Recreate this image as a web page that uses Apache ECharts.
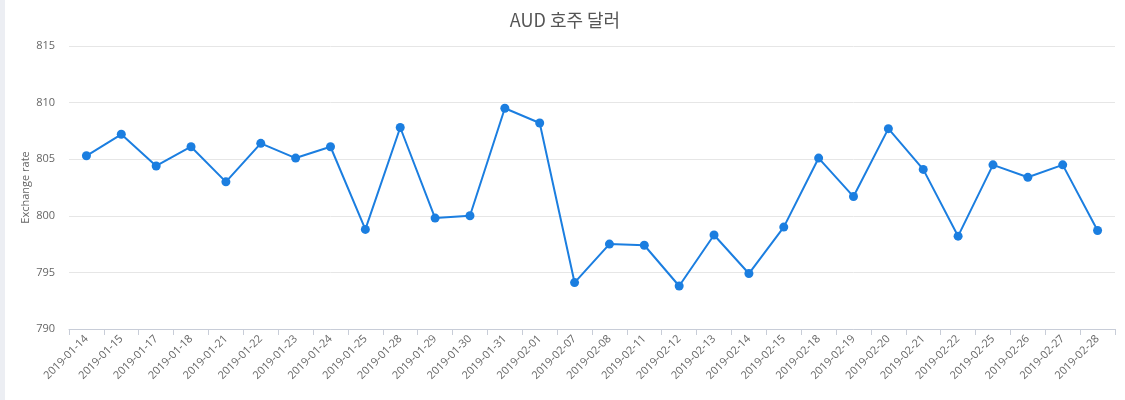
<!DOCTYPE html>
<html>
<head>
<meta charset="utf-8">
<script src="https://cdn.jsdelivr.net/npm/echarts@6/dist/echarts.min.js"></script>
<style>
	html, body { margin: 0; padding: 0; background: #fff; }
	body { border-left: 5px solid #eceef3; }
	#chart { width: 1120px; height: 400px; }
</style>
</head>
<body>
<div id="chart"></div>
<script>
// 날짜 (x축)
var dates = [
	'2019-01-14', '2019-01-15', '2019-01-17', '2019-01-18', '2019-01-21',
	'2019-01-22', '2019-01-23', '2019-01-24', '2019-01-25', '2019-01-28',
	'2019-01-29', '2019-01-30', '2019-01-31', '2019-02-01', '2019-02-07',
	'2019-02-08', '2019-02-11', '2019-02-12', '2019-02-13', '2019-02-14',
	'2019-02-15', '2019-02-18', '2019-02-19', '2019-02-20', '2019-02-21',
	'2019-02-22', '2019-02-25', '2019-02-26', '2019-02-27', '2019-02-28'
];

// 환율 값
var rates = [
	805.3, 807.2, 804.4, 806.1, 803.0,
	806.4, 805.1, 806.1, 798.8, 807.8,
	799.8, 800.0, 809.5, 808.2, 794.1,
	797.5, 797.4, 793.8, 798.3, 794.9,
	799.0, 805.1, 801.7, 807.7, 804.1,
	798.2, 804.5, 803.4, 804.5, 798.7
];

var yMin = 790;
var yMax = 815;
var yStep = 5;

var myChart = echarts.init(document.getElementById('chart'));

var option = {
	animation: false,
	title: {
		text: 'AUD 호주 달러',
		left: 'center',
		top: 6,
		textStyle: {
			color: '#555',
			fontSize: 18,
			fontWeight: 'normal',
			fontFamily: 'Noto Sans CJK KR'
		}
	},
	grid: {
		left: 64,
		right: 10,
		top: 46,
		bottom: 71
	},
	xAxis: {
		type: 'category',
		data: dates,
		boundaryGap: true,
		axisLine: { lineStyle: { color: '#c8cdd8' } },
		axisTick: { show: true, length: 6, lineStyle: { color: '#c8cdd8' } },
		axisLabel: {
			rotate: 45,
			interval: 0,
			color: '#666',
			fontSize: 11,
			fontFamily: 'Open Sans',
			margin: 8
		}
	},
	yAxis: {
		type: 'value',
		min: yMin,
		max: yMax,
		interval: yStep,
		name: 'Exchange rate',
		nameLocation: 'middle',
		nameGap: 38,
		nameMoveOverlap: false,
		nameTextStyle: { color: '#666', fontSize: 11, fontFamily: 'Open Sans' },
		axisLine: { show: false },
		axisTick: { show: false },
		axisLabel: { color: '#666', fontSize: 11, fontFamily: 'Open Sans', margin: 14 },
		splitLine: { lineStyle: { color: '#e6e6e6' } }
	},
	series: [{
		type: 'line',
		data: rates,
		symbol: 'circle',
		symbolSize: 9,
		itemStyle: { color: '#1b7ee0' },
		lineStyle: { color: '#1b7ee0', width: 2 }
	}]
};

myChart.setOption(option);
</script>
</body>
</html>
